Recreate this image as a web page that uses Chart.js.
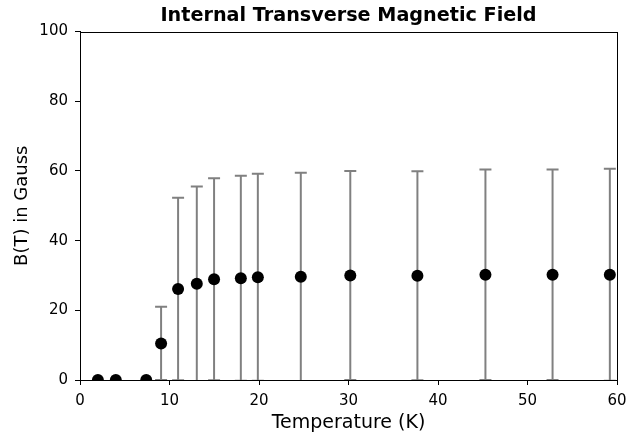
<!DOCTYPE html>
<html lang="en">
  <head>
    <meta charset="UTF-8" />
    <meta name="viewport" content="width=device-width, initial-scale=1.0" />
    <title>Internal Transverse Magnetic Field</title>
    <script src="https://cdn.jsdelivr.net/npm/chart.js"></script>
    <style>
      body {
        margin: 0;
        background: #fff;
      }

      .chart-container {
        position: relative;
        width: 626px;
        height: 435px;
      }
    </style>
  </head>
  <body>
    <div class="chart-container">
      <canvas id="fieldChart"></canvas>
    </div>

    <script>
      // Temperature (K), field B(T) in Gauss and its uncertainty
      const temperatures = [2.0, 4.0, 7.4, 9.06, 10.96, 13.05, 14.98, 17.97, 19.87, 24.67, 30.2, 37.7, 45.3, 52.8, 59.2]
      const fieldValues = [0, 0, 0, 10.5, 26.1, 27.6, 28.9, 29.2, 29.5, 29.6, 30.0, 29.9, 30.2, 30.2, 30.2]
      const fieldErrors = [0, 0, 0, 10.5, 26.2, 27.9, 29.0, 29.4, 29.7, 29.9, 30.0, 30.0, 30.2, 30.2, 30.4]

      const xTicks = [0, 10, 20, 30, 40, 50, 60]
      const yTicks = [0, 20, 40, 60, 80, 100]

      const font = "'DejaVu Sans', sans-serif"

      // vertical error bars with caps, drawn under the markers
      const errorBars = {
        id: "errorBars",
        beforeDatasetsDraw(chart) {
          const { ctx, chartArea, scales } = chart
          const x = scales.x
          const y = scales.y
          ctx.save()
          ctx.beginPath()
          ctx.rect(chartArea.left, chartArea.top, chartArea.right - chartArea.left, chartArea.bottom - chartArea.top)
          ctx.clip()
          ctx.strokeStyle = "#808080"
          ctx.lineWidth = 2
          temperatures.forEach((t, i) => {
            const err = fieldErrors[i]
            if (!err) return
            const px = x.getPixelForValue(t)
            const lo = y.getPixelForValue(fieldValues[i] - err)
            const hi = y.getPixelForValue(fieldValues[i] + err)
            ctx.beginPath()
            ctx.moveTo(px, lo)
            ctx.lineTo(px, hi)
            ctx.moveTo(px - 6, hi)
            ctx.lineTo(px + 6, hi)
            ctx.moveTo(px - 6, lo)
            ctx.lineTo(px + 6, lo)
            ctx.stroke()
          })
          ctx.restore()
        },
      }

      // box around the plot area
      const frame = {
        id: "frame",
        afterDraw(chart) {
          const { ctx, chartArea } = chart
          ctx.save()
          ctx.strokeStyle = "#000"
          ctx.lineWidth = 1
          ctx.strokeRect(
            Math.round(chartArea.left) + 0.5,
            Math.round(chartArea.top) + 0.5,
            Math.round(chartArea.right) - Math.round(chartArea.left),
            Math.round(chartArea.bottom) - Math.round(chartArea.top)
          )
          ctx.restore()
        },
      }

      const ctx = document.getElementById("fieldChart").getContext("2d")
      new Chart(ctx, {
        type: "scatter",
        data: {
          datasets: [
            {
              label: "B(T)",
              data: temperatures.map((t, i) => ({ x: t, y: fieldValues[i] })),
              backgroundColor: "#000",
              borderWidth: 0,
              pointRadius: 6,
              pointHoverRadius: 6,
              clip: 0,
            },
          ],
        },
        options: {
          responsive: true,
          maintainAspectRatio: false,
          animation: false,
          layout: {
            padding: 0,
          },
          plugins: {
            legend: { display: false },
            tooltip: { enabled: false },
            title: {
              display: true,
              text: "Internal Transverse Magnetic Field",
              fullSize: false,
              color: "#000",
              font: { family: font, size: 19.2, weight: "bold" },
              padding: { top: 4, bottom: 4.5 },
            },
          },
          scales: {
            x: {
              type: "linear",
              min: 0,
              max: 60,
              afterBuildTicks: (scale) => {
                scale.ticks = xTicks.map((v) => ({ value: v }))
              },
              afterFit: (scale) => {
                scale.height = 55
                scale.paddingRight = 9
              },
              grid: {
                drawOnChartArea: false,
                tickLength: 5,
                color: "#000",
              },
              border: { color: "#000", width: 1 },
              ticks: {
                color: "#000",
                padding: 7,
                maxRotation: 0,
                font: { family: font, size: 15 },
              },
              title: {
                display: true,
                text: "Temperature (K)",
                color: "#000",
                font: { family: font, size: 19 },
                padding: { bottom: 1 },
              },
            },
            y: {
              min: 0,
              max: 100,
              afterBuildTicks: (scale) => {
                scale.ticks = yTicks.map((v) => ({ value: v }))
              },
              afterFit: (scale) => {
                scale.width = 80
              },
              grid: {
                drawOnChartArea: false,
                tickLength: 5,
                color: "#000",
              },
              border: { color: "#000", width: 1 },
              ticks: {
                color: "#000",
                padding: 7,
                font: { family: font, size: 15 },
              },
              title: {
                display: true,
                text: "B(T) in Gauss",
                color: "#000",
                font: { family: font, size: 18 },
                padding: { top: 12 },
              },
            },
          },
        },
        plugins: [errorBars, frame],
      })
    </script>
  </body>
</html>
